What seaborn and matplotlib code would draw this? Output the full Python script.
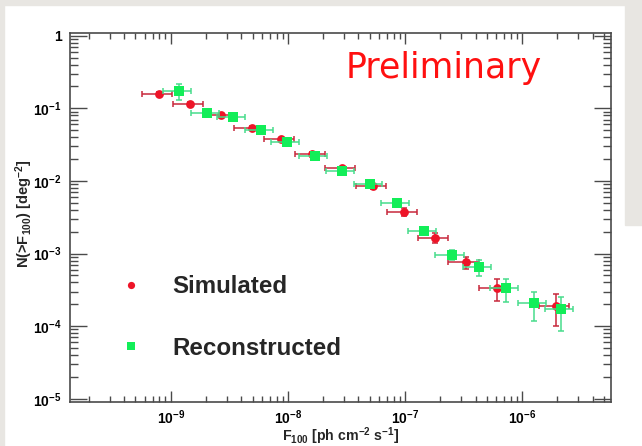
import matplotlib
matplotlib.use("Agg")
import matplotlib.pyplot as plt
from matplotlib.patches import Rectangle
from matplotlib.lines import Line2D
from matplotlib.ticker import FixedLocator, FixedFormatter, LogLocator, NullFormatter
import numpy as np
import pandas as pd
import seaborn as sns

# Cumulative source counts N(>F100) versus photon flux
sim_flux = [8.0e-10, 1.46e-9, 2.67e-9, 4.91e-9, 8.73e-9, 1.60e-8, 2.91e-8,
            5.36e-8, 9.85e-8, 1.80e-7, 3.29e-7, 6.05e-7, 1.96e-6]
sim_n = [0.159, 0.116, 0.080, 0.054, 0.0374, 0.0237, 0.0149,
         0.0085, 0.00377, 0.00165, 7.57e-4, 3.32e-4, 1.89e-4]
sim_flux_err = [2.3e-10, 4.2e-10, 7.7e-10, 1.42e-9, 2.53e-9, 4.6e-9, 8.4e-9,
                1.55e-8, 2.86e-8, 5.2e-8, 9.5e-8, 1.75e-7, 5.7e-7]
sim_n_err = [0.0064, 0.0046, 0.004, 0.0027, 0.0019, 0.0012, 0.0009,
             0.0007, 0.0005, 0.00025, 1.5e-4, 1.1e-4, 8.7e-5]

rec_flux = [1.18e-9, 2.03e-9, 3.42e-9, 5.89e-9, 9.89e-9, 1.70e-8, 2.88e-8,
            4.99e-8, 8.47e-8, 1.46e-7, 2.50e-7, 4.30e-7, 7.26e-7, 1.26e-6, 2.14e-6]
rec_n = [0.173, 0.0853, 0.0752, 0.0502, 0.0344, 0.0222, 0.01355,
         0.00897, 0.00491, 0.00206, 9.64e-4, 6.52e-4, 3.32e-4, 2.08e-4, 1.70e-4]
rec_flux_err = [3.2e-10, 5.5e-10, 9.2e-10, 1.59e-9, 2.67e-9, 4.6e-9, 7.8e-9,
                1.35e-8, 2.29e-8, 3.9e-8, 6.8e-8, 1.16e-7, 1.96e-7, 3.4e-7, 5.8e-7]
rec_n_err = [0.043, 0.010, 0.0045, 0.0025, 0.0017, 0.0011, 0.0007,
             0.00054, 0.0004, 0.00025, 1.55e-4, 1.63e-4, 1.2e-4, 9.2e-5, 8.5e-5]

series_names = ["Simulated", "Reconstructed"]

x_ticks = [1e-9, 1e-8, 1e-7, 1e-6]
x_tick_labels = ["$10^{-9}$", "$10^{-8}$", "$10^{-7}$", "$10^{-6}$"]
y_ticks = [1e-5, 1e-4, 1e-3, 1e-2, 1e-1, 1]
y_tick_labels = ["$10^{-5}$", "$10^{-4}$", "$10^{-3}$", "$10^{-2}$", "$10^{-1}$", "1"]

sns.set_theme(style="ticks")
plt.rcParams["font.family"] = ["Liberation Sans", "DejaVu Sans"]
plt.rcParams["font.weight"] = "bold"
plt.rcParams["mathtext.fontset"] = "custom"
plt.rcParams["mathtext.rm"] = "Liberation Sans:bold"
plt.rcParams["mathtext.it"] = "Liberation Sans:bold"
plt.rcParams["mathtext.bf"] = "Liberation Sans:bold"

RED = "#ee1428"
RED_BAR = "#c8283c"
GREEN = "#12ee58"
GREEN_BAR = "#48dc8c"
FRAME = "#4a4a4a"

df = pd.concat([
    pd.DataFrame({"flux": sim_flux, "n": sim_n, "sample": series_names[0]}),
    pd.DataFrame({"flux": rec_flux, "n": rec_n, "sample": series_names[1]}),
], ignore_index=True)

fig = plt.figure(figsize=(6.42, 4.46), dpi=100)
fig.patch.set_facecolor("white")
# light slide border
fig.add_artist(Rectangle((0, 1 - 5 / 446), 1, 5 / 446, transform=fig.transFigure,
                         color="#e8e6e2", zorder=0))
fig.add_artist(Rectangle((0, 0), 4 / 642, 1, transform=fig.transFigure,
                         color="#e8e6e2", zorder=0))
fig.add_artist(Rectangle((625 / 642, 1 - 225 / 446), 17 / 642, 225 / 446,
                         transform=fig.transFigure, color="#e8e6e2", zorder=0))

ax = fig.add_axes([70 / 642, 1 - 401.7 / 446, 540.7 / 642, 368.4 / 446])
ax.set_facecolor("white")
ax.set_xscale("log")
ax.set_yscale("log")

ax.errorbar(sim_flux, sim_n, xerr=sim_flux_err, yerr=sim_n_err, fmt="none",
            ecolor=RED_BAR, elinewidth=1.1, capsize=2.4, capthick=1.1, zorder=2)
sns.scatterplot(data=df[df["sample"] == series_names[0]], x="flux", y="n",
                color=RED, marker="o", s=40, linewidth=0, ax=ax, zorder=3,
                legend=False)
ax.errorbar(rec_flux, rec_n, xerr=rec_flux_err, yerr=rec_n_err, fmt="none",
            ecolor=GREEN_BAR, elinewidth=1.1, capsize=2.4, capthick=1.1, zorder=4)
sns.scatterplot(data=df[df["sample"] == series_names[1]], x="flux", y="n",
                color=GREEN, marker="s", s=42, linewidth=0, ax=ax, zorder=5,
                legend=False)

ax.set_xlim(1.38e-10, 5.7e-6)
ax.set_ylim(10 ** -5.04, 10 ** 0.033)

ax.xaxis.set_major_locator(FixedLocator(x_ticks))
ax.xaxis.set_major_formatter(FixedFormatter(x_tick_labels))
ax.yaxis.set_major_locator(FixedLocator(y_ticks))
ax.yaxis.set_major_formatter(FixedFormatter(y_tick_labels))
ax.xaxis.set_minor_locator(LogLocator(base=10, subs=np.arange(2, 10), numticks=50))
ax.yaxis.set_minor_locator(LogLocator(base=10, subs=np.arange(2, 10), numticks=50))
ax.xaxis.set_minor_formatter(NullFormatter())
ax.yaxis.set_minor_formatter(NullFormatter())

ax.tick_params(axis="both", which="both", direction="in", top=True, right=True,
               color=FRAME, width=1.0, labelsize=10, labelcolor="black")
ax.tick_params(axis="x", which="major", length=8, pad=5)
ax.tick_params(axis="x", which="minor", length=4.5)
ax.tick_params(axis="y", which="major", length=12, pad=6)
ax.tick_params(axis="y", which="minor", length=5.5)
for sp in ax.spines.values():
    sp.set_color(FRAME)
    sp.set_linewidth(1.2)

ax.set_xlabel("F$_{100}$ [ph cm$^{-2}$ s$^{-1}$]", fontsize=10.2,
              fontweight="bold", labelpad=-1)
ax.set_ylabel("N(>F$_{100}$) [deg$^{-2}$]", fontsize=10.5, fontweight="bold")
ax.yaxis.set_label_coords(-0.064, 0.51)

handles = [
    Line2D([], [], linestyle="none", marker="o", markersize=5.2,
           markerfacecolor=RED, markeredgewidth=0),
    Line2D([], [], linestyle="none", marker="s", markersize=5.2,
           markerfacecolor=GREEN, markeredgewidth=0),
]
fig.legend(handles, series_names, loc="center left",
           bbox_to_anchor=(119.4 / 642, 1 - 317.5 / 446), frameon=False,
           prop={"family": "Liberation Sans", "weight": "bold", "size": 17.4},
           handlelength=1.0, handletextpad=1.2, labelspacing=1.6,
           borderpad=0, borderaxespad=0)

fig.text(444 / 642, 1 - 78 / 446, "Preliminary", color="#ff1010",
         fontsize=25, fontweight="normal", family="DejaVu Sans",
         ha="center", va="baseline")

fig.savefig("out.png", dpi=100, facecolor=fig.get_facecolor())
